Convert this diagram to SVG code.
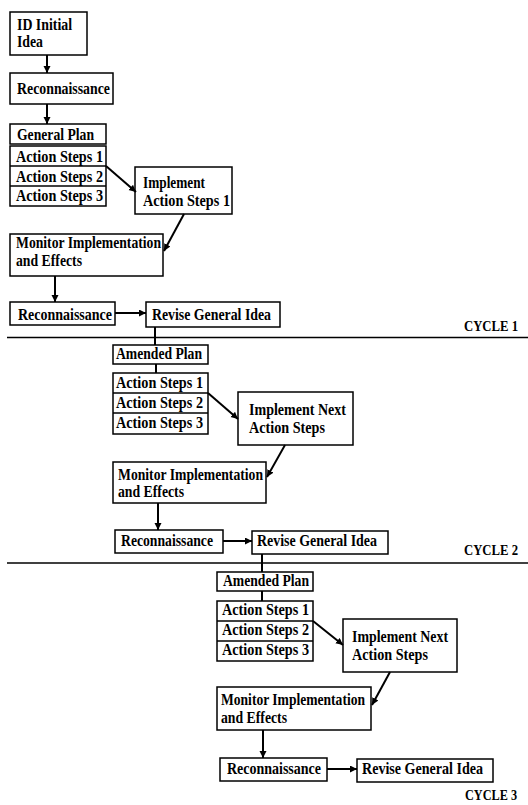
<svg xmlns="http://www.w3.org/2000/svg" width="528" height="805" viewBox="0 0 528 805">
<defs>
<marker id="ah" markerUnits="userSpaceOnUse" markerWidth="8" markerHeight="8" refX="7" refY="3.5" orient="auto">
<path d="M0,0 L7,3.5 L0,7 z" fill="#000"/>
</marker>
<style>
rect{fill:#fff;stroke:#000;stroke-width:1.5}
.d{stroke:#000;stroke-width:1.5}
.c line{stroke:#000;stroke-width:2;fill:none}
.c .a{marker-end:url(#ah)}
.sep{stroke:#000;stroke-width:1.5}
text{font-family:"Liberation Serif","Times New Roman",serif;font-weight:bold;font-size:16px;fill:#000}
.cy{font-size:15px}
</style>
</defs>
<rect x="0" y="0" width="528" height="805" style="fill:#fff;stroke:none"/>

<!-- Cycle 1 -->
<g id="c1-idea"><rect x="10" y="12" width="77" height="43"/>
<text x="17" y="30" textLength="55" lengthAdjust="spacingAndGlyphs">ID Initial</text>
<text x="17" y="47" textLength="26" lengthAdjust="spacingAndGlyphs">Idea</text></g>
<g id="c1-recon1"><rect x="10" y="73" width="103" height="31"/>
<text x="17" y="94" textLength="93" lengthAdjust="spacingAndGlyphs">Reconnaissance</text></g>
<g id="c1-plan"><rect x="10" y="124" width="96" height="20"/>
<text x="17" y="140" textLength="77" lengthAdjust="spacingAndGlyphs">General Plan</text></g>
<g id="c1-steps"><rect x="10" y="146" width="96" height="60"/>
<line class="d" x1="10" y1="166" x2="106" y2="166"/><line class="d" x1="10" y1="186" x2="106" y2="186"/>
<text x="16" y="162" textLength="87" lengthAdjust="spacingAndGlyphs">Action Steps 1</text>
<text x="16" y="182" textLength="87" lengthAdjust="spacingAndGlyphs">Action Steps 2</text>
<text x="16" y="201" textLength="87" lengthAdjust="spacingAndGlyphs">Action Steps 3</text></g>
<g id="c1-implement"><rect x="135" y="167" width="97" height="47"/>
<text x="143" y="188" textLength="62" lengthAdjust="spacingAndGlyphs">Implement</text>
<text x="143" y="206" textLength="87" lengthAdjust="spacingAndGlyphs">Action Steps 1</text></g>
<g id="c1-monitor"><rect x="10" y="234" width="153" height="42"/>
<text x="16" y="248" textLength="145" lengthAdjust="spacingAndGlyphs">Monitor Implementation</text>
<text x="16" y="266" textLength="66" lengthAdjust="spacingAndGlyphs">and Effects</text></g>
<g id="c1-recon2"><rect x="10" y="302" width="105" height="23"/>
<text x="18" y="320" textLength="94" lengthAdjust="spacingAndGlyphs">Reconnaissance</text></g>
<g id="c1-revise"><rect x="146" y="302" width="134" height="25"/>
<text x="152" y="320" textLength="119" lengthAdjust="spacingAndGlyphs">Revise General Idea</text></g>
<g id="cycle1-label"><text class="cy" x="464" y="331" textLength="54" lengthAdjust="spacingAndGlyphs">CYCLE 1</text>
<line class="sep" x1="7" y1="337.5" x2="528" y2="337.5"/></g>

<!-- Cycle 2 -->
<g id="c2-plan"><rect x="113" y="345" width="95" height="19"/>
<text x="116" y="359" textLength="86" lengthAdjust="spacingAndGlyphs">Amended Plan</text></g>
<g id="c2-steps"><rect x="113" y="373" width="95" height="61"/>
<line class="d" x1="113" y1="393" x2="208" y2="393"/><line class="d" x1="113" y1="413" x2="208" y2="413"/>
<text x="116" y="388" textLength="87" lengthAdjust="spacingAndGlyphs">Action Steps 1</text>
<text x="116" y="408" textLength="87" lengthAdjust="spacingAndGlyphs">Action Steps 2</text>
<text x="116" y="428" textLength="87" lengthAdjust="spacingAndGlyphs">Action Steps 3</text></g>
<g id="c2-implement"><rect x="238" y="392" width="115" height="53"/>
<text x="249" y="415" textLength="97" lengthAdjust="spacingAndGlyphs">Implement Next</text>
<text x="249" y="433" textLength="76" lengthAdjust="spacingAndGlyphs">Action Steps</text></g>
<g id="c2-monitor"><rect x="113" y="462" width="153" height="41"/>
<text x="118" y="480" textLength="145" lengthAdjust="spacingAndGlyphs">Monitor Implementation</text>
<text x="118" y="497" textLength="66" lengthAdjust="spacingAndGlyphs">and Effects</text></g>
<g id="c2-recon"><rect x="115" y="530" width="108" height="23"/>
<text x="121" y="546" textLength="92" lengthAdjust="spacingAndGlyphs">Reconnaissance</text></g>
<g id="c2-revise"><rect x="252" y="531" width="136" height="23"/>
<text x="257" y="546" textLength="120" lengthAdjust="spacingAndGlyphs">Revise General Idea</text></g>
<g id="cycle2-label"><text class="cy" x="464" y="555" textLength="54" lengthAdjust="spacingAndGlyphs">CYCLE 2</text>
<line class="sep" x1="7" y1="563" x2="528" y2="563"/></g>

<!-- Cycle 3 -->
<g id="c3-plan"><rect x="217" y="572" width="96" height="19"/>
<text x="223" y="586" textLength="86" lengthAdjust="spacingAndGlyphs">Amended Plan</text></g>
<g id="c3-steps"><rect x="217" y="601" width="96" height="60"/>
<line class="d" x1="217" y1="621" x2="313" y2="621"/><line class="d" x1="217" y1="641" x2="313" y2="641"/>
<text x="222" y="615" textLength="87" lengthAdjust="spacingAndGlyphs">Action Steps 1</text>
<text x="222" y="635" textLength="87" lengthAdjust="spacingAndGlyphs">Action Steps 2</text>
<text x="222" y="655" textLength="87" lengthAdjust="spacingAndGlyphs">Action Steps 3</text></g>
<g id="c3-implement"><rect x="343" y="619" width="114" height="53"/>
<text x="352" y="642" textLength="96" lengthAdjust="spacingAndGlyphs">Implement Next</text>
<text x="352" y="660" textLength="76" lengthAdjust="spacingAndGlyphs">Action Steps</text></g>
<g id="c3-monitor"><rect x="217" y="687" width="154" height="43"/>
<text x="221" y="705" textLength="144" lengthAdjust="spacingAndGlyphs">Monitor Implementation</text>
<text x="221" y="723" textLength="66" lengthAdjust="spacingAndGlyphs">and Effects</text></g>
<g id="c3-recon"><rect x="220" y="758" width="107" height="23"/>
<text x="227" y="774" textLength="94" lengthAdjust="spacingAndGlyphs">Reconnaissance</text></g>
<g id="c3-revise"><rect x="357" y="759" width="136" height="23"/>
<text x="362" y="774" textLength="121" lengthAdjust="spacingAndGlyphs">Revise General Idea</text></g>
<g id="cycle3-label"><text class="cy" x="465" y="800" textLength="52" lengthAdjust="spacingAndGlyphs">CYCLE 3</text></g>

<g id="connectors" class="c">
<line class="a" x1="47" y1="55" x2="47" y2="73"/>
<line class="a" x1="47" y1="104" x2="47" y2="124"/>
<line class="a" x1="106" y1="166" x2="136" y2="192"/>
<line class="a" x1="184" y1="214" x2="164" y2="251"/>
<line class="a" x1="55" y1="276" x2="55" y2="302"/>
<line class="a" x1="115" y1="313" x2="146" y2="313"/>
<line x1="155" y1="327" x2="155" y2="345"/>
<line x1="156" y1="364" x2="156" y2="373"/>
<line class="a" x1="208" y1="393" x2="238" y2="419"/>
<line class="a" x1="285" y1="445" x2="267" y2="477"/>
<line class="a" x1="158" y1="503" x2="158" y2="530"/>
<line class="a" x1="223" y1="541" x2="252" y2="541"/>
<line x1="262" y1="554" x2="262" y2="572"/>
<line x1="262" y1="591" x2="262" y2="601"/>
<line class="a" x1="313" y1="621" x2="343" y2="645"/>
<line class="a" x1="390" y1="672" x2="372" y2="705"/>
<line class="a" x1="263" y1="730" x2="263" y2="758"/>
<line class="a" x1="327" y1="769" x2="357" y2="769"/>
</g>
</svg>
